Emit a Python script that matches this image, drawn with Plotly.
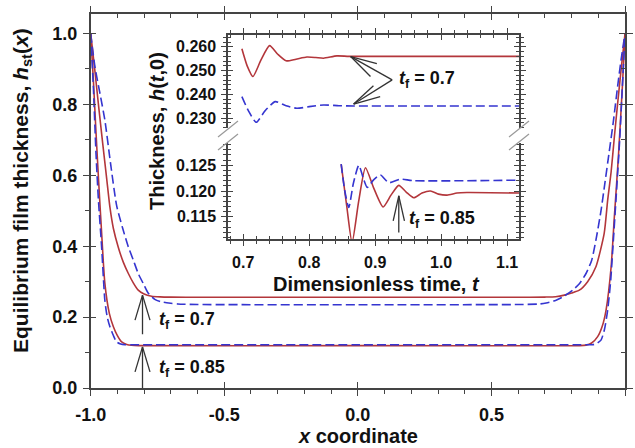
import plotly.graph_objects as go

# ---- steady film profiles h_st(x) ----
x_red70 = [-1.0, -0.985, -0.971, -0.955, -0.94, -0.928, -0.915, -0.897, -0.878, -0.859, -0.84, -0.822,
           -0.80, -0.772, -0.74, -0.70, -0.60, 0.0, 0.60, 0.70, 0.74, 0.773, 0.80, 0.829, 0.86, 0.891,
           0.922, 0.935, 0.948, 0.960, 0.972, 0.985, 1.0]
h_red70 = [1.0, 0.90, 0.80, 0.69, 0.59, 0.51, 0.45, 0.398, 0.355, 0.323, 0.296, 0.276,
           0.265, 0.259, 0.2572, 0.2565, 0.256, 0.256, 0.256, 0.2565, 0.2575, 0.262, 0.268, 0.276, 0.30, 0.342,
           0.436, 0.53, 0.61, 0.708, 0.80, 0.896, 1.0]

x_blue70 = [-1.0, -0.984, -0.965, -0.947, -0.925, -0.903, -0.88, -0.859, -0.84, -0.822, -0.80, -0.785,
            -0.76, -0.735, -0.70, -0.674, -0.60, 0.0, 0.60, 0.68, 0.705, 0.74, 0.767, 0.804, 0.83, 0.854,
            0.875, 0.891, 0.910, 0.925, 0.940, 0.956, 0.972, 0.986, 1.0]
h_blue70 = [1.0, 0.906, 0.83, 0.756, 0.63, 0.515, 0.45, 0.398, 0.36, 0.323, 0.29, 0.268,
            0.25, 0.243, 0.239, 0.237, 0.2355, 0.235, 0.2355, 0.237, 0.240, 0.247, 0.257, 0.276, 0.295, 0.323,
            0.36, 0.417, 0.50, 0.58, 0.662, 0.75, 0.849, 0.93, 1.0]

x_red85 = [-1.0, -0.99, -0.98, -0.97, -0.96, -0.947, -0.93, -0.915, -0.90, -0.884, -0.865, -0.847, -0.82,
           0.0, 0.83, 0.854, 0.875, 0.8976, 0.915, 0.929, 0.948, 0.960, 0.975, 0.99, 1.0]
h_red85 = [1.0, 0.87, 0.72, 0.58, 0.45, 0.296, 0.21, 0.173, 0.148, 0.130, 0.123, 0.1205, 0.1196,
           0.1196, 0.1196, 0.121, 0.127, 0.145, 0.175, 0.22, 0.342, 0.483, 0.65, 0.85, 1.0]

x_blue85 = [-1.0, -0.99, -0.98, -0.971, -0.959, -0.947, -0.938, -0.928, -0.915, -0.903, -0.888, -0.872,
            -0.85, 0.0, 0.86, 0.879, 0.895, 0.910, 0.923, 0.935, 0.946, 0.954, 0.966, 0.98, 0.99, 1.0]
h_blue85 = [1.0, 0.85, 0.66, 0.53, 0.398, 0.248, 0.20, 0.173, 0.148, 0.13, 0.124, 0.1222,
            0.1221, 0.1221, 0.1221, 0.1222, 0.126, 0.135, 0.165, 0.22, 0.30, 0.389, 0.53, 0.70, 0.85, 1.0]

# ---- centre thickness h(t,0) versus time ----
t_red70 = [0.698, 0.706, 0.7147, 0.727, 0.740, 0.752, 0.765, 0.780, 0.7965, 0.810, 0.8217, 0.842,
           0.860, 0.90, 1.0, 1.118]
ht_red70 = [0.2592, 0.2520, 0.2475, 0.2545, 0.2605, 0.2570, 0.2541, 0.2548, 0.2557, 0.2555, 0.2552, 0.2562,
            0.2560, 0.2560, 0.2560, 0.2560]

t_blue70 = [0.698, 0.708, 0.7197, 0.733, 0.7485, 0.765, 0.7813, 0.800, 0.8217, 0.845, 0.867, 1.0, 1.118]
ht_blue70 = [0.2390, 0.2330, 0.2282, 0.2330, 0.2369, 0.2352, 0.2341, 0.2348, 0.2355, 0.2352, 0.2351,
             0.2351, 0.2351]

t_red85 = [0.8485, 0.857, 0.865, 0.875, 0.8853, 0.898, 0.912, 0.924, 0.9358, 0.947, 0.9585, 0.971,
           0.9838, 0.996, 1.009, 1.024, 1.039, 1.118]
ht_red85 = [0.1252, 0.1170, 0.1100, 0.1180, 0.1245, 0.1205, 0.1169, 0.1192, 0.1211, 0.1198, 0.1187, 0.1196,
            0.1200, 0.1194, 0.1192, 0.1196, 0.1197, 0.1196]

t_blue85 = [0.8485, 0.854, 0.860, 0.867, 0.8752, 0.882, 0.888, 0.898, 0.908, 0.9206, 0.9383, 0.958, 1.118]
ht_blue85 = [0.1252, 0.1200, 0.1168, 0.1215, 0.1250, 0.1225, 0.1207, 0.1222, 0.1231, 0.1216, 0.1223,
             0.1220, 0.1221]

# tick labels of the main x axis (plain hyphen minus)
x_tickvals = [-1.0, -0.5, 0.0, 0.5, 1.0]
x_ticktext = ["-1.0", "-0.5", "0.0", "0.5", "1.0"]

RED = "#b3363b"
BLUE = "#3535d0"
AX = "#444444"
FONT = "Liberation Sans, Arial, sans-serif"
DASH = "9px,4px"

fig = go.Figure()


def add_line(x, y, color, dashed, xa, ya):
    fig.add_trace(go.Scatter(
        x=x, y=y, mode="lines", xaxis=xa, yaxis=ya, showlegend=False, hoverinfo="skip",
        line=dict(color=color, width=1.6, dash=DASH if dashed else "solid",
                  shape="spline", smoothing=0.6)))


# main profiles
add_line(x_red70, h_red70, RED, False, "x", "y")
add_line(x_blue70, h_blue70, BLUE, True, "x", "y")
add_line(x_red85, h_red85, RED, False, "x", "y")
add_line(x_blue85, h_blue85, BLUE, True, "x", "y")
# inset: upper panel (t_f = 0.7), lower panel (t_f = 0.85)
add_line(t_red70, ht_red70, RED, False, "x3", "y3")
add_line(t_blue70, ht_blue70, BLUE, True, "x3", "y3")
add_line(t_red85, ht_red85, RED, False, "x2", "y2")
add_line(t_blue85, ht_blue85, BLUE, True, "x2", "y2")

# empty traces so the tick-only twin axes get drawn
for xa, ya in [("x4", "y4"), ("x5", "y5"), ("x6", "y6"), ("x7", "y7")]:
    fig.add_trace(go.Scatter(x=[], y=[], xaxis=xa, yaxis=ya, showlegend=False))

tickfont_main = dict(family=FONT, size=18, color="#111", weight="bold")
tickfont_in = dict(family=FONT, size=16, color="#111", weight="bold")

base = dict(showgrid=False, zeroline=False, showline=True, linecolor=AX, linewidth=1.5,
            tickcolor=AX, tickwidth=1.4, automargin=False)

MAIN_XD = [0.1428, 0.9843]
MAIN_YD = [0.1339, 0.96875]
IN_XD = [0.3591, 0.8173]
UP_YD = [0.7143, 0.9219]
LO_YD = [0.4665, 0.6808]
MAIN_XR = [-1.0, 1.0]
MAIN_YR = [0.0, 1.055]
IN_XR = [0.677, 1.118]
UP_YR = [0.2258, 0.265]
LO_YR = [0.1107, 0.1293]

main_minor = dict(ticks="outside", ticklen=4, tickcolor=AX, tickwidth=1.2)

fig.update_layout(
    template="none",
    width=635, height=448, autosize=False,
    margin=dict(l=0, r=0, t=0, b=0, pad=0),
    paper_bgcolor="white", plot_bgcolor="white",
    showlegend=False,
    font=dict(family=FONT, color="#111"),
    # main axes: bottom / left carry labels, outer ticks
    xaxis=dict(base, domain=MAIN_XD, range=MAIN_XR, anchor="y",
               ticks="outside", ticklen=6, tickvals=x_tickvals, ticktext=x_ticktext,
               tickfont=tickfont_main, ticklabelstandoff=4,
               minor=dict(main_minor, dtick=0.1)),
    yaxis=dict(base, domain=MAIN_YD, range=MAIN_YR, anchor="x",
               ticks="outside", ticklen=6, dtick=0.2, tick0=0, tickformat=".1f",
               tickfont=tickfont_main, ticklabelstandoff=2,
               minor=dict(main_minor, dtick=0.1)),
    # inner halves of the major ticks on all four sides
    xaxis4=dict(base, overlaying="x", range=MAIN_XR, anchor="y", mirror="ticks", ticks="inside",
                ticklen=6, dtick=0.5, tick0=-1, showticklabels=False),
    yaxis4=dict(base, overlaying="y", range=MAIN_YR, anchor="x", mirror="ticks", ticks="inside",
                ticklen=6, dtick=0.2, tick0=0, showticklabels=False),
    # top / right frame: outer major halves, minor ticks pointing into the plot
    xaxis7=dict(base, overlaying="x", range=MAIN_XR, anchor="y", side="top", ticks="outside",
                ticklen=6, dtick=0.5, tick0=-1, showticklabels=False,
                minor=dict(dtick=0.1, ticks="inside", ticklen=4, tickcolor=AX, tickwidth=1.2)),
    yaxis7=dict(base, overlaying="y", range=MAIN_YR, anchor="x", side="right", ticks="outside",
                ticklen=6, dtick=0.2, tick0=0, showticklabels=False,
                minor=dict(dtick=0.1, ticks="inside", ticklen=4, tickcolor=AX, tickwidth=1.2)),
    # inset, lower panel
    xaxis2=dict(base, domain=IN_XD, range=IN_XR, anchor="y2", ticks="outside", ticklen=5,
                dtick=0.1, tick0=0.7, tickformat=".1f", tickfont=tickfont_in, ticklabelstandoff=3,
                minor=dict(dtick=0.02, ticks="outside", ticklen=3, tickcolor=AX, tickwidth=1.1)),
    yaxis2=dict(base, domain=LO_YD, range=LO_YR, anchor="x2", mirror="ticks", ticks="outside",
                ticklen=5, dtick=0.005, tick0=0.115, tickformat=".3f", tickfont=tickfont_in,
                ticklabelstandoff=2,
                minor=dict(dtick=0.001, ticks="outside", ticklen=3, tickcolor=AX, tickwidth=1.1)),
    xaxis5=dict(base, overlaying="x2", range=IN_XR, anchor="y2", ticks="inside", ticklen=5,
                dtick=0.1, tick0=0.7, showticklabels=False,
                minor=dict(dtick=0.02, ticks="inside", ticklen=3, tickcolor=AX, tickwidth=1.1)),
    yaxis5=dict(base, overlaying="y2", range=LO_YR, anchor="x2", mirror="ticks", ticks="inside",
                ticklen=5, dtick=0.005, tick0=0.115, showticklabels=False,
                minor=dict(dtick=0.001, ticks="inside", ticklen=3, tickcolor=AX, tickwidth=1.1)),
    # inset, upper panel
    xaxis3=dict(base, domain=IN_XD, range=IN_XR, anchor="y3", side="top", ticks="outside",
                ticklen=5, dtick=0.1, tick0=0.7, showticklabels=False,
                minor=dict(dtick=0.02, ticks="outside", ticklen=3, tickcolor=AX, tickwidth=1.1)),
    yaxis3=dict(base, domain=UP_YD, range=UP_YR, anchor="x3", mirror="ticks", ticks="outside",
                ticklen=5, dtick=0.01, tick0=0.23, tickformat=".3f", tickfont=tickfont_in,
                ticklabelstandoff=2,
                minor=dict(dtick=0.002, ticks="outside", ticklen=3, tickcolor=AX, tickwidth=1.1)),
    xaxis6=dict(base, overlaying="x3", range=IN_XR, anchor="y3", side="top", ticks="inside",
                ticklen=5, dtick=0.1, tick0=0.7, showticklabels=False,
                minor=dict(dtick=0.02, ticks="inside", ticklen=3, tickcolor=AX, tickwidth=1.1)),
    yaxis6=dict(base, overlaying="y3", range=UP_YR, anchor="x3", mirror="ticks", ticks="inside",
                ticklen=5, dtick=0.01, tick0=0.23, showticklabels=False,
                minor=dict(dtick=0.002, ticks="inside", ticklen=3, tickcolor=AX, tickwidth=1.1)),
)

shapes = []


def seg(x0, y0, x1, y1, xref, yref, color="#333", width=1.3):
    shapes.append(dict(type="line", x0=x0, y0=y0, x1=x1, y1=y1, xref=xref, yref=yref,
                       line=dict(color=color, width=width)))


def open_arrow(tip, tail, heads, xref, yref):
    seg(tail[0], tail[1], tip[0], tip[1], xref, yref)
    for hx, hy in heads:
        seg(hx, hy, tip[0], tip[1], xref, yref)


# main-plot pointers
open_arrow((-0.806, 0.262), (-0.806, 0.152), [(-0.834, 0.1915), (-0.778, 0.1915)], "x", "y")
open_arrow((-0.806, 0.116), (-0.806, 0.0), [(-0.834, 0.0455), (-0.778, 0.0455)], "x", "y")
# inset pointers (t_f = 0.7: split arrow to both curves)
open_arrow((0.8629, 0.2559), (0.9258, 0.2461), [(0.9026, 0.2529), (0.8929, 0.2475)], "x3", "y3")
open_arrow((0.8674, 0.2359), (0.9258, 0.2461), [(0.8974, 0.2436), (0.9076, 0.2390)], "x3", "y3")
open_arrow((0.9358, 0.11906), (0.9358, 0.11196), [(0.9273, 0.11423), (0.9444, 0.11423)], "x2", "y2")

# axis-break marks on the inset's vertical axes
for xl in (218, 509):
    for dy in (0, 13):
        seg((xl) / 635, 1 - (137 + dy) / 448, (xl + 20) / 635, 1 - (121 + dy) / 448,
            "paper", "paper", color="#999", width=1.2)

fig.update_layout(shapes=shapes)

ann_font = dict(family=FONT, size=18, color="#111")
tf = "<b><i>t</i><sub>f</sub> = {}</b>"


def label(text, x, y, xref, yref):
    return dict(text=text, x=x, y=y, xref=xref, yref=yref, xanchor="left", yanchor="middle",
                showarrow=False, font=ann_font)


def title(text, px, py, size, angle=0):
    return dict(text=text, x=px / 635, y=1 - py / 448, xref="paper", yref="paper",
                xanchor="center", yanchor="middle", textangle=angle, showarrow=False,
                font=dict(family=FONT, size=size, color="#111"))


annotations = [
    label(tf.format("0.7"), -0.752, 0.19, "x", "y"),
    label(tf.format("0.85"), -0.752, 0.054, "x", "y"),
    label(tf.format("0.7"), 0.9333, 0.2461, "x3", "y3"),
    label(tf.format("0.85"), 0.9485, 0.11456, "x2", "y2"),
    title("<b><i>x</i> coordinate</b>", 358, 436, 20),
    title("<b>Equilibrium film thickness, <i>h</i><sub>st</sub>(<i>x</i>)</b>", 22, 191, 21, -90),
    title("<b>Dimensionless time, <i>t</i></b>", 376, 284, 20),
    title("<b>Thickness, <i>h</i>(<i>t</i>,0)</b>", 157, 131, 20, -90),
]
fig.update_layout(annotations=annotations)

fig.write_html("out.html")
